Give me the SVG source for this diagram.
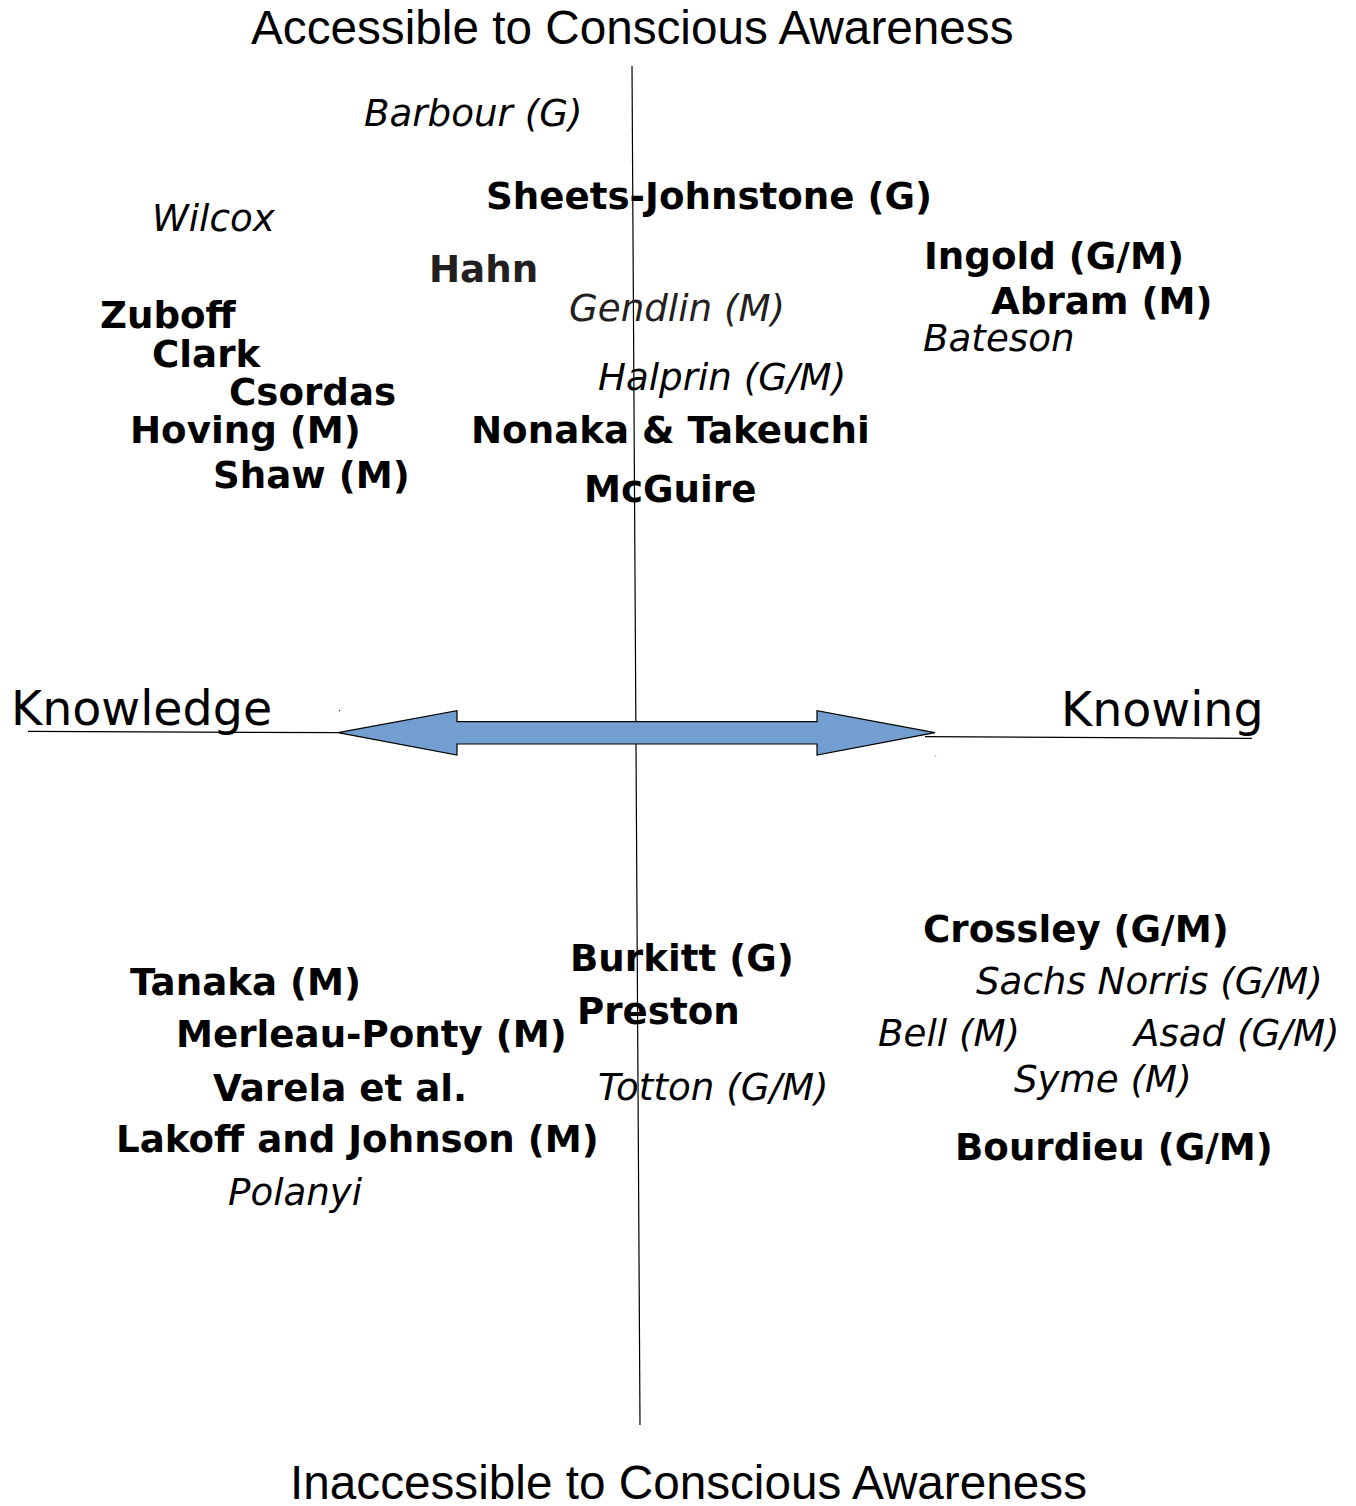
<svg xmlns="http://www.w3.org/2000/svg" width="1356" height="1506" viewBox="0 0 1356 1506">
<style>
.t{font-family:"DejaVu Sans",sans-serif;font-size:37.2px;fill:#000}
.b{font-weight:bold}
.i{font-style:italic}
.g{fill:#231f20}
.axis{font-family:"Liberation Sans",Arial,sans-serif;font-size:47.7px;fill:#000}
.dim{font-family:"DejaVu Sans",sans-serif;font-size:47.5px;fill:#000}
.ln{stroke:#000;stroke-width:1.2;fill:none}
</style>
<rect width="1356" height="1506" fill="#fff"/>
<g id="connectors">
<line class="ln" x1="632" y1="66" x2="640" y2="1425"/>
<line class="ln" x1="28" y1="731.3" x2="338" y2="732.7"/>
<line class="ln" x1="925" y1="736.7" x2="1252" y2="738.3"/>
<polygon id="double-arrow" points="338,732.7 457,710.7 457,721.7 817,721.7 817,710.7 935,732.7 817,755 817,744 457,744 457,755" fill="#729fcf" stroke="#000" stroke-width="1.2" stroke-linejoin="miter"/>
<circle cx="339.5" cy="710.7" r="0.6" fill="#000"/>
<circle cx="935.7" cy="756" r="0.6" fill="#666"/>
</g>
<g id="axis-labels">
<text id="top" class="axis" x="251" y="44">Accessible to Conscious Awareness</text>
<text id="bottom" class="axis" x="290" y="1499">Inaccessible to Conscious Awareness</text>
<text id="knowledge" class="dim" x="11" y="725">Knowledge</text>
<text id="knowing" class="dim" x="1061" y="726">Knowing</text>
</g>
<g id="n-barbour"><text class="t i" x="364" y="125.5">Barbour (G)</text></g>
<g id="n-sheets"><text class="t b" x="486" y="209">Sheets-Johnstone (G)</text></g>
<g id="n-wilcox"><text class="t i" x="152" y="231">Wilcox</text></g>
<g id="n-ingold"><text class="t b" x="924" y="269">Ingold (G/M)</text></g>
<g id="n-hahn"><text class="t b g" x="429" y="282">Hahn</text></g>
<g id="n-abram"><text class="t b" x="991" y="314">Abram (M)</text></g>
<g id="n-zuboff"><text class="t b" x="100" y="328">Zuboff</text></g>
<g id="n-gendlin"><text class="t i g" x="569" y="321">Gendlin (M)</text></g>
<g id="n-bateson"><text class="t i" x="923" y="351">Bateson</text></g>
<g id="n-clark"><text class="t b" x="152" y="367">Clark</text></g>
<g id="n-halprin"><text class="t i" x="598" y="390">Halprin (G/M)</text></g>
<g id="n-csordas"><text class="t b" x="229" y="405">Csordas</text></g>
<g id="n-hoving"><text class="t b" x="130" y="443">Hoving (M)</text></g>
<g id="n-nonaka"><text class="t b" x="471" y="443">Nonaka &amp; Takeuchi</text></g>
<g id="n-shaw"><text class="t b" x="213" y="488">Shaw (M)</text></g>
<g id="n-mcguire"><text class="t b" x="584" y="502">McGuire</text></g>
<g id="n-crossley"><text class="t b" x="923" y="942">Crossley (G/M)</text></g>
<g id="n-burkitt"><text class="t b" x="570" y="971">Burkitt (G)</text></g>
<g id="n-sachs"><text class="t i" x="976" y="994">Sachs Norris (G/M)</text></g>
<g id="n-tanaka"><text class="t b" x="130" y="995">Tanaka (M)</text></g>
<g id="n-preston"><text class="t b" x="577" y="1024">Preston</text></g>
<g id="n-merleau"><text class="t b" x="176" y="1047">Merleau-Ponty (M)</text></g>
<g id="n-bell"><text class="t i" x="878" y="1046">Bell (M)</text></g>
<g id="n-asad"><text class="t i" x="1134" y="1046">Asad (G/M)</text></g>
<g id="n-syme"><text class="t i" x="1014" y="1092">Syme (M)</text></g>
<g id="n-varela"><text class="t b" x="213" y="1101">Varela et al.</text></g>
<g id="n-totton"><text class="t i" x="598" y="1100">Totton (G/M)</text></g>
<g id="n-lakoff"><text class="t b" x="116" y="1152">Lakoff and Johnson (M)</text></g>
<g id="n-bourdieu"><text class="t b" x="955" y="1160">Bourdieu (G/M)</text></g>
<g id="n-polanyi"><text class="t i" x="228" y="1205">Polanyi</text></g>
</svg>
